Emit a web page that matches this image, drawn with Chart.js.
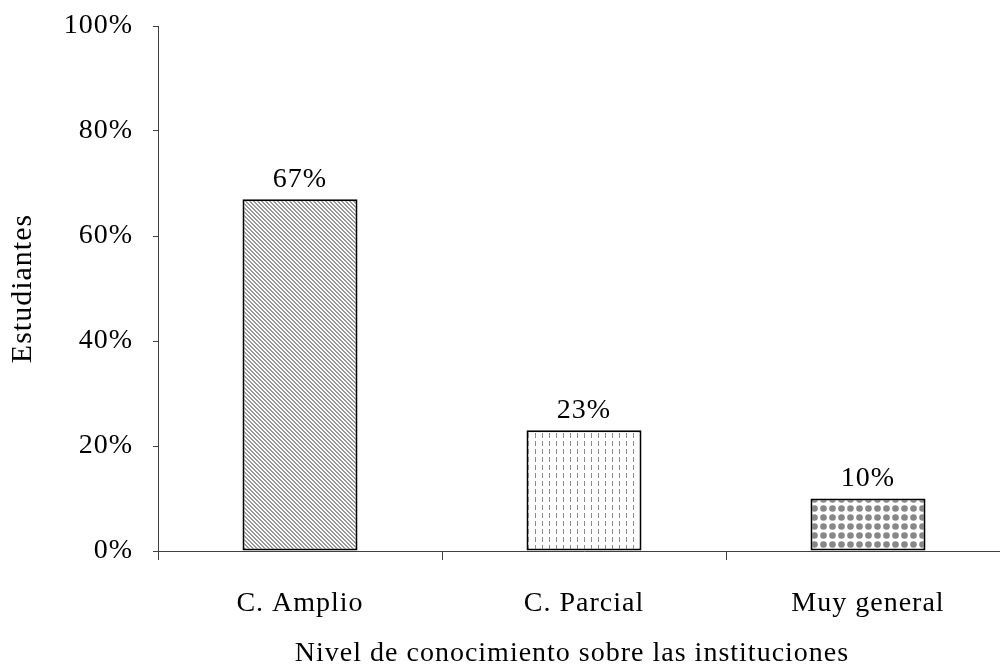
<!DOCTYPE html>
<html>
<head>
<meta charset="utf-8">
<script src="https://cdn.jsdelivr.net/npm/chart.js@4"></script>
<style>
  html, body { margin: 0; padding: 0; background: #fff; overflow: hidden; }
  #wrap { width: 1012px; height: 665px; position: relative; }
</style>
</head>
<body>
<div id="wrap"><canvas id="chart1"></canvas></div>
<script>
var categories = ['C. Amplio', 'C. Parcial', 'Muy general'];
var values = [67, 23, 10];
var yTicks = [0, 20, 40, 60, 80, 100];
var xTitle = 'Nivel de conocimiento sobre las instituciones';
var yTitle = 'Estudiantes';

var FONT = '"Liberation Serif", "Times New Roman", serif';
var AXIS = '#404040';

function makePattern(w, h, paint) {
	var c = document.createElement('canvas');
	c.width = w;
	c.height = h;
	var g = c.getContext('2d');
	g.fillStyle = '#fff';
	g.fillRect(0, 0, w, h);
	paint(g);
	return document.createElement('canvas').getContext('2d').createPattern(c, 'repeat');
}

// diagonal hatch
var hatch = makePattern(4, 4, function(g) {
	g.fillStyle = '#999';
	for (var i = 0; i < 4; i++) {
		g.fillRect(i, i, 1, 1);
		g.fillRect((i + 1) % 4, i, 1, 1);
	}
});
// small vertical dashes
var dashes = makePattern(7, 8, function(g) {
	g.fillStyle = '#8a8a8a';
	g.fillRect(3, 1, 1, 5);
});
// dots
var dots = makePattern(9, 9, function(g) {
	g.fillStyle = '#878787';
	g.beginPath();
	g.arc(4.5, 4.5, 3.3, 0, Math.PI * 2);
	g.fill();
});

// a touch of letter spacing so the serif text gets the reference's wider set
var spacing = {
	id: 'spacing',
	beforeDraw: function(chart) {
		chart.ctx.letterSpacing = '1px';
	}
};

var valueLabels = {
	id: 'valueLabels',
	afterDatasetsDraw: function(chart) {
		var ctx = chart.ctx;
		var meta = chart.getDatasetMeta(0);
		ctx.save();
		ctx.font = '28px ' + FONT;
		ctx.fillStyle = '#000';
		ctx.textAlign = 'center';
		ctx.textBaseline = 'bottom';
		meta.data.forEach(function(bar, i) {
			ctx.fillText(values[i] + '%', bar.x, bar.y - 6);
		});
		ctx.restore();
	}
};

var xTitlePlugin = {
	id: 'xTitlePlugin',
	afterDraw: function(chart) {
		var ctx = chart.ctx;
		ctx.save();
		ctx.font = '28px ' + FONT;
		ctx.fillStyle = '#000';
		ctx.textAlign = 'center';
		ctx.textBaseline = 'middle';
		ctx.fillText(xTitle, 572, 654);
		ctx.restore();
	}
};

var ctx = document.getElementById('chart1').getContext('2d');
new Chart(ctx, {
	type: 'bar',
	data: {
		labels: categories,
		datasets: [{
			data: values,
			backgroundColor: [hatch, dashes, dots],
			borderColor: '#000',
			borderWidth: 2,
			borderSkipped: false,
			barPercentage: 0.405,
			categoryPercentage: 1
		}]
	},
	options: {
		responsive: true,
		maintainAspectRatio: false,
		animation: false,
		layout: { padding: { top: 26, right: 2, bottom: 0, left: 0 } },
		plugins: {
			legend: { display: false },
			tooltip: { enabled: false }
		},
		scales: {
			x: {
				afterFit: function(s) {
					s.height = 114;
					s.paddingLeft = 0;
					s.paddingRight = 0;
				},
				border: { display: true, color: AXIS, width: 1 },
				grid: { drawOnChartArea: false, drawTicks: true, tickLength: 9, color: AXIS, offset: true },
				ticks: { color: '#000', padding: 27, font: { family: FONT, size: 28 } }
			},
			y: {
				min: 0,
				max: 100,
				afterFit: function(s) {
					s.width = 158;
					s.paddingTop = 0;
					s.paddingBottom = 0;
				},
				afterBuildTicks: function(s) {
					s.ticks = yTicks.map(function(v) { return { value: v }; });
				},
				border: { display: true, color: AXIS, width: 1 },
				grid: { drawOnChartArea: false, drawTicks: true, tickLength: 5, color: AXIS },
				ticks: {
					color: '#000',
					padding: 20,
					font: { family: FONT, size: 28 },
					callback: function(v) { return v + '%'; }
				},
				title: {
					display: true,
					text: yTitle,
					color: '#000',
					padding: { top: 5, bottom: 0 },
					font: { family: FONT, size: 30 }
				}
			}
		}
	},
	plugins: [spacing, valueLabels, xTitlePlugin]
});
</script>
</body>
</html>
